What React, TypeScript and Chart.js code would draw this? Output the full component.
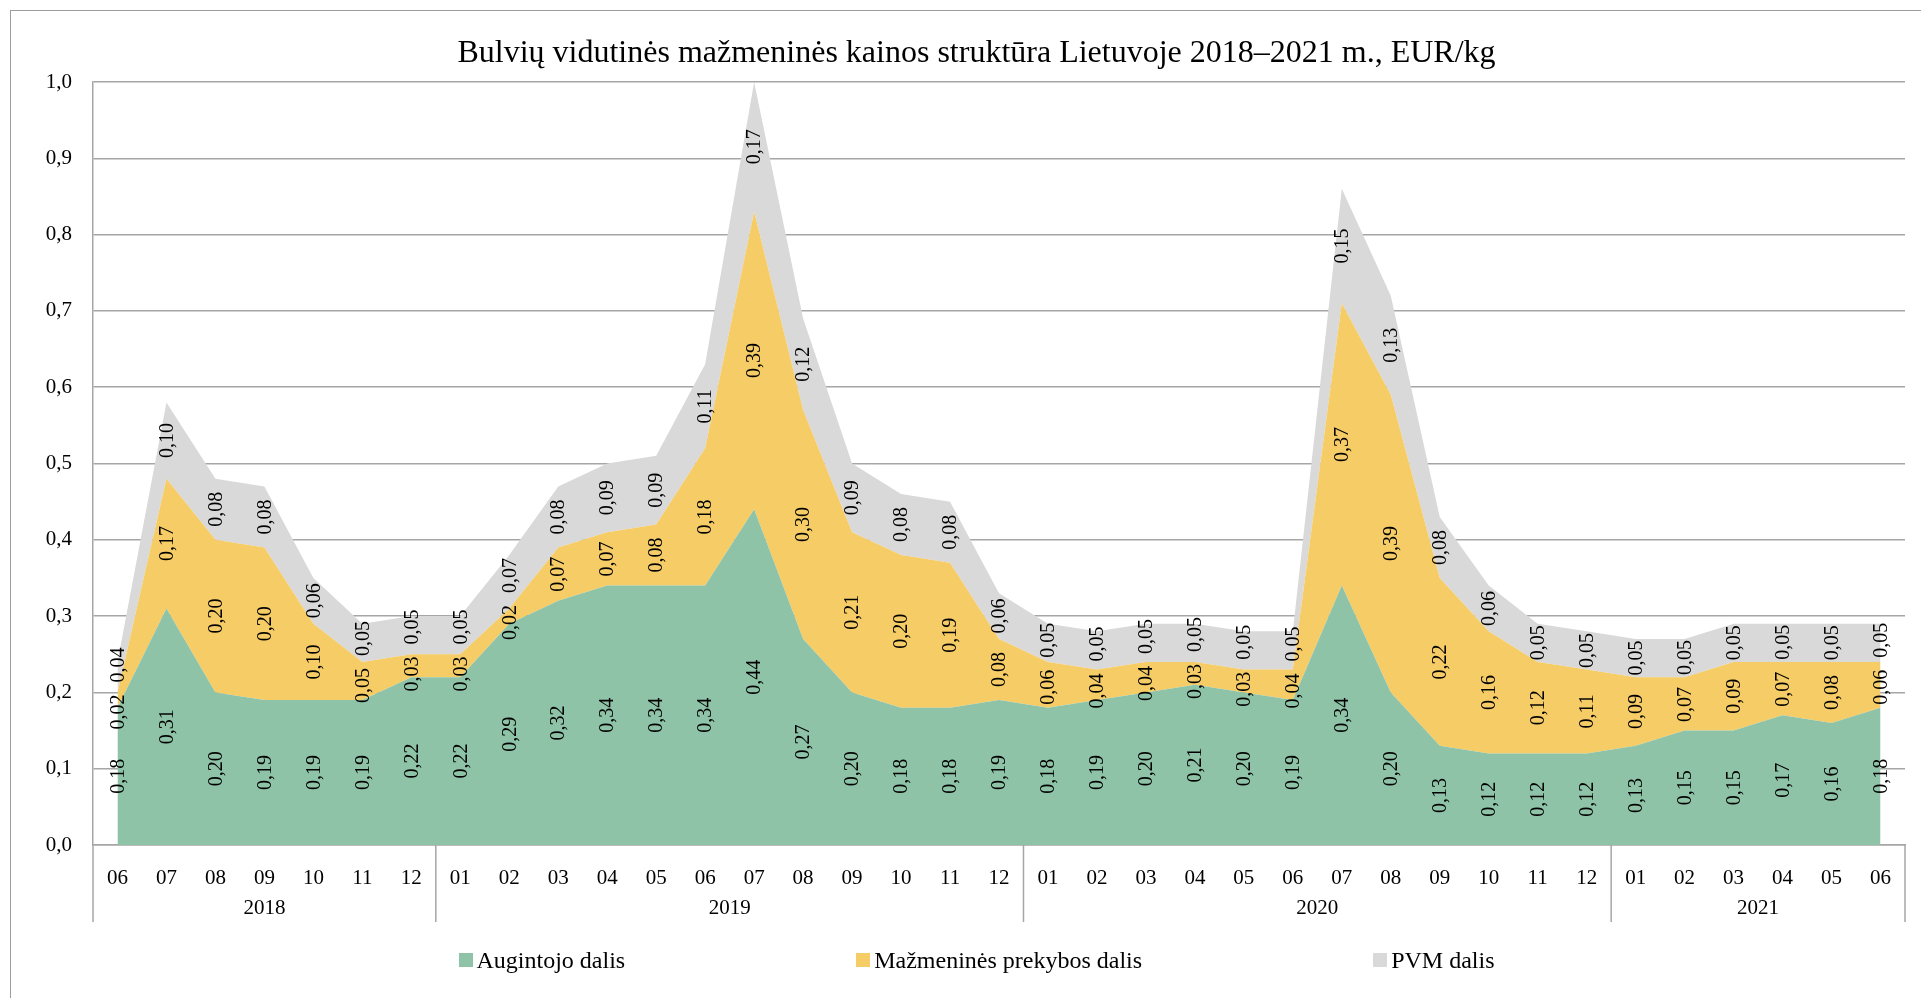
import React, { useEffect, useRef } from "react";
import { Chart, registerables } from "chart.js";

Chart.register(...registerables);

const monthLabels = [
  "06", "07", "08", "09", "10", "11", "12",
  "01", "02", "03", "04", "05", "06", "07", "08", "09", "10", "11", "12",
  "01", "02", "03", "04", "05", "06", "07", "08", "09", "10", "11", "12",
  "01", "02", "03", "04", "05", "06",
];
const yearLabels = ["2018", "2019", "2020", "2021"];
const monthsPerYear = [7, 12, 12, 6];

const growerShare = [
  0.18, 0.31, 0.2, 0.19, 0.19, 0.19, 0.22,
  0.22, 0.29, 0.32, 0.34, 0.34, 0.34, 0.44, 0.27, 0.2, 0.18, 0.18, 0.19,
  0.18, 0.19, 0.2, 0.21, 0.2, 0.19, 0.34, 0.2, 0.13, 0.12, 0.12, 0.12,
  0.13, 0.15, 0.15, 0.17, 0.16, 0.18,
];
const retailShare = [
  0.02, 0.17, 0.2, 0.2, 0.1, 0.05, 0.03,
  0.03, 0.02, 0.07, 0.07, 0.08, 0.18, 0.39, 0.3, 0.21, 0.2, 0.19, 0.08,
  0.06, 0.04, 0.04, 0.03, 0.03, 0.04, 0.37, 0.39, 0.22, 0.16, 0.12, 0.11,
  0.09, 0.07, 0.09, 0.07, 0.08, 0.06,
];
const vatShare = [
  0.04, 0.1, 0.08, 0.08, 0.06, 0.05, 0.05,
  0.05, 0.07, 0.08, 0.09, 0.09, 0.11, 0.17, 0.12, 0.09, 0.08, 0.08, 0.06,
  0.05, 0.05, 0.05, 0.05, 0.05, 0.05, 0.15, 0.13, 0.08, 0.06, 0.05, 0.05,
  0.05, 0.05, 0.05, 0.05, 0.05, 0.05,
];

const seriesNames = ["Augintojo dalis", "Mažmeninės prekybos dalis", "PVM dalis"];
const seriesColors = ["#8EC3A7", "#F5CC66", "#D9D9D9"];
const seriesValues = [growerShare, retailShare, vatShare];

const titleText = "Bulvių vidutinės mažmeninės kainos struktūra Lietuvoje 2018–2021 m., EUR/kg";
const yMin = 0;
const yMax = 1;
const yStep = 0.1;

const FONT = "'Liberation Serif', 'Times New Roman', serif";
const GRID = "#A6A6A6";

const fmt = (v: number, d: number) => v.toFixed(d).replace(".", ",");

const stackLabelsPlugin = {
  id: "stackLabels",
  afterDatasetsDraw(chart: any) {
    const { ctx } = chart;
    const y = chart.scales.y;
    const n = chart.data.labels.length;
    const dsCount = chart.data.datasets.length;
    ctx.save();
    ctx.font = `20px ${FONT}`;
    ctx.fillStyle = "#000";
    ctx.textAlign = "center";
    ctx.textBaseline = "middle";
    for (let i = 0; i < n; i++) {
      let base = 0;
      const items: { text: string; c: number; w: number; x: number }[] = [];
      for (let di = 0; di < dsCount; di++) {
        const v = chart.data.datasets[di].data[i];
        const top = base + v;
        const pt = chart.getDatasetMeta(di).data[i];
        const text = fmt(v, 2);
        items.push({
          text,
          c: (y.getPixelForValue(base) + y.getPixelForValue(top)) / 2,
          w: ctx.measureText(text).width,
          x: pt.x,
        });
        base = top;
      }
      // resolve overlaps (items ordered bottom -> top, pixel y decreasing)
      for (let iter = 0; iter < 20; iter++) {
        let moved = false;
        for (let k = 1; k < items.length; k++) {
          const lo = items[k - 1];
          const hi = items[k];
          const need = (lo.w + hi.w) / 2 + 12;
          const sep = lo.c - hi.c;
          if (sep < need - 0.5) {
            const d = (need - sep) / 2;
            lo.c += d;
            hi.c -= d;
            moved = true;
          }
        }
        if (!moved) break;
      }
      items.forEach((it) => {
        ctx.save();
        ctx.translate(it.x, it.c);
        ctx.rotate(-Math.PI / 2);
        ctx.fillText(it.text, 0, 1);
        ctx.restore();
      });
    }
    ctx.restore();
  },
};

const yearAxisPlugin = {
  id: "yearAxis",
  afterDraw(chart: any) {
    const { ctx, chartArea } = chart;
    const x = chart.scales.x;
    const n = chart.data.labels.length;
    const bottom = chartArea.bottom;
    const bounds = [chartArea.left];
    let idx = 0;
    monthsPerYear.forEach((c) => {
      idx += c;
      if (idx >= n) bounds.push(chartArea.right);
      else bounds.push((x.getPixelForValue(idx - 1) + x.getPixelForValue(idx)) / 2);
    });
    ctx.save();
    ctx.strokeStyle = GRID;
    ctx.lineWidth = 1.5;
    bounds.forEach((bx) => {
      ctx.beginPath();
      ctx.moveTo(bx, bottom);
      ctx.lineTo(bx, bottom + 77);
      ctx.stroke();
    });
    ctx.fillStyle = "#000";
    ctx.font = `21px ${FONT}`;
    ctx.textAlign = "center";
    ctx.textBaseline = "middle";
    yearLabels.forEach((yl, k) => {
      ctx.fillText(yl, (bounds[k] + bounds[k + 1]) / 2, bottom + 63);
    });
    ctx.restore();
  },
};

export default function App() {
  const canvasRef = useRef<HTMLCanvasElement | null>(null);

  useEffect(() => {
    document.body.style.margin = "0";
    document.body.style.overflow = "hidden";
    const canvas = canvasRef.current;
    if (!canvas) return;
    const chart = new Chart(canvas, {
      type: "line",
      data: {
        labels: monthLabels,
        datasets: seriesValues.map((vals, i) => ({
          label: seriesNames[i],
          data: vals,
          backgroundColor: seriesColors[i],
          borderColor: seriesColors[i],
          borderWidth: 0,
          pointRadius: 0,
          pointHoverRadius: 0,
          tension: 0,
          fill: i === 0 ? "origin" : "-1",
        })),
      },
      options: {
        responsive: false,
        animation: false,
        events: [],
        layout: { padding: { left: 0, right: 16, top: 82, bottom: 0 } },
        plugins: {
          legend: { display: false },
          title: { display: false },
          tooltip: { enabled: false },
        },
        scales: {
          x: {
            type: "category",
            offset: true,
            grid: { display: false },
            border: { display: true, color: GRID, width: 1.5 },
            ticks: {
              autoSkip: false,
              maxRotation: 0,
              minRotation: 0,
              padding: 13,
              color: "#000",
              font: { family: FONT, size: 21 },
            },
            afterFit: (s: any) => {
              s.height = 153;
            },
          },
          y: {
            stacked: true,
            min: yMin,
            max: yMax,
            ticks: {
              stepSize: yStep,
              padding: 21,
              color: "#000",
              font: { family: FONT, size: 21 },
              callback: (v: any) => fmt(Number(v), 1),
            },
            grid: { color: GRID, lineWidth: 1.5, drawTicks: false },
            border: { display: true, color: GRID, width: 1.5 },
            afterFit: (s: any) => {
              s.width = 93;
            },
          },
        },
      },
      plugins: [stackLabelsPlugin, yearAxisPlugin],
    } as any);
    return () => chart.destroy();
  }, []);

  return (
    <div
      style={{
        position: "relative",
        width: 1921,
        height: 998,
        overflow: "hidden",
        background: "#fff",
      }}
    >
      <div
        style={{
          position: "absolute",
          left: 10,
          top: 10,
          width: 2000,
          height: 2000,
          borderLeft: "1px solid #9C9C9C",
          borderTop: "1px solid #9C9C9C",
        }}
      />
      <canvas
        ref={canvasRef}
        width={1921}
        height={998}
        style={{ position: "absolute", left: 0, top: 0, width: 1921, height: 998 }}
      />
      <div
        style={{
          position: "absolute",
          left: 10,
          top: 32,
          width: 1933,
          textAlign: "center",
          fontFamily: FONT,
          fontSize: 32,
          lineHeight: "38px",
          color: "#000",
          whiteSpace: "nowrap",
        }}
      >
        {titleText}
      </div>
      <div
        style={{
          position: "absolute",
          left: 10,
          top: 946,
          width: 1933,
          height: 28,
          display: "flex",
          justifyContent: "center",
          alignItems: "center",
          gap: 231,
          fontFamily: FONT,
          fontSize: 24,
          color: "#000",
        }}
      >
        {seriesNames.map((name, i) => (
          <div key={name} style={{ display: "flex", alignItems: "center", whiteSpace: "nowrap" }}>
            <span
              style={{
                display: "inline-block",
                width: 14,
                height: 14,
                background: seriesColors[i],
                marginRight: 4,
              }}
            />
            <span>{name}</span>
          </div>
        ))}
      </div>
    </div>
  );
}
